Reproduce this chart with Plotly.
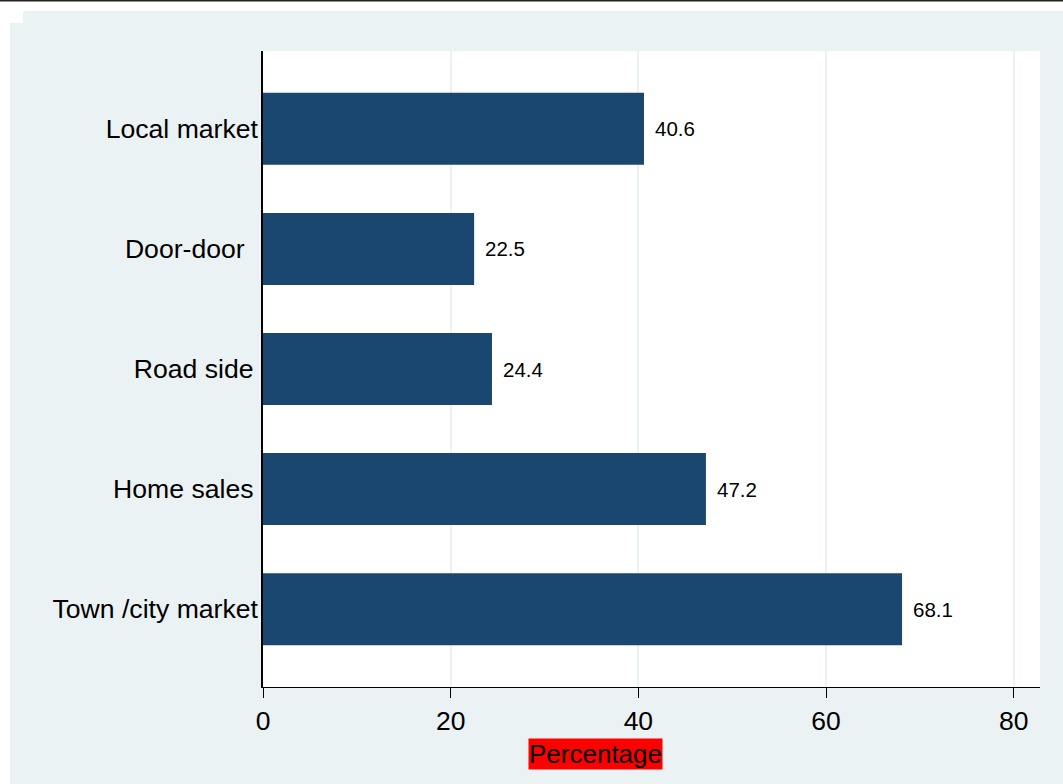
import plotly.graph_objects as go

categories = ["Local market", "Door-door\u2002", "Road side\u200a\u200a", "Home sales\u200a\u200a", "Town /city market"]
values = [40.6, 22.5, 24.4, 47.2, 68.1]
value_labels = ["40.6", "22.5", "24.4", "47.2", "68.1"]
x_ticks = [0, 20, 40, 60, 80]
x_title = "Percentage"

W, H = 1063, 784
L, R, T, B = 263, 23, 51, 97
PW, PH = W - L - R, H - T - B

def px(x):
    return (x - L) / PW

def py(y):
    return (H - B - y) / PH

BG = "#EAF2F3"
BAR = "#1A476F"
FONT = "Liberation Sans, Arial, sans-serif"

fig = go.Figure()
fig.add_trace(go.Bar(
    x=values, y=categories, orientation="h",
    marker=dict(color=BAR, line=dict(width=0)),
    width=0.6, hoverinfo="skip",
))

for v, c, t in zip(values, categories, value_labels):
    fig.add_annotation(x=v, y=c, text=t, showarrow=False, xanchor="left",
                       yanchor="middle", xshift=9, font=dict(size=20.5, color="black", family=FONT))

fig.add_annotation(x=px(595), y=py(754), xref="paper", yref="paper", text=x_title,
                   showarrow=False, xanchor="center", yanchor="middle",
                   bgcolor="#FF0000", borderpad=0,
                   font=dict(size=26, color="black", family=FONT))

shapes = [
    dict(type="rect", xref="paper", yref="paper", x0=px(0), x1=px(W), y0=py(0), y1=py(11),
         fillcolor="white", line=dict(width=0), layer="below"),
    dict(type="rect", xref="paper", yref="paper", x0=px(0), x1=px(10), y0=py(0), y1=py(H),
         fillcolor="white", line=dict(width=0), layer="below"),
    dict(type="rect", xref="paper", yref="paper", x0=px(0), x1=px(23), y0=py(0), y1=py(23),
         fillcolor="white", line=dict(width=0), layer="below"),
    dict(type="line", xref="paper", yref="paper", x0=px(0), x1=px(W), y0=py(0.7), y1=py(0.7),
         line=dict(color="#222222", width=1.5)),
]

fig.update_layout(
    width=W, height=H,
    margin=dict(l=L, r=R, t=T, b=B, pad=0),
    paper_bgcolor=BG, plot_bgcolor="white",
    showlegend=False,
    shapes=shapes,
    font=dict(family=FONT, color="black"),
    bargap=0.4,
)
fig.update_xaxes(
    range=[0, 82.8], tickvals=x_ticks, ticktext=[str(t) for t in x_ticks],
    showgrid=True, gridcolor=BG, gridwidth=2, zeroline=False,
    showline=True, linecolor="black", linewidth=1.2,
    ticks="outside", ticklen=10, tickcolor="black", tickwidth=1.2,
    tickfont=dict(size=26.5, color="black", family=FONT), automargin=False,
)
fig.update_yaxes(
    categoryorder="array", categoryarray=categories,
    range=[4.648, -0.648], showgrid=False, zeroline=False,
    showline=True, linecolor="black", linewidth=1.5,
    ticks="", tickfont=dict(size=26.6, color="black", family=FONT), automargin=False,
    ticklabelstandoff=-2,
)

fig.write_html("out.html", config={"displayModeBar": False},
               post_script="document.body.style.margin='0';document.body.style.overflow='hidden';")
